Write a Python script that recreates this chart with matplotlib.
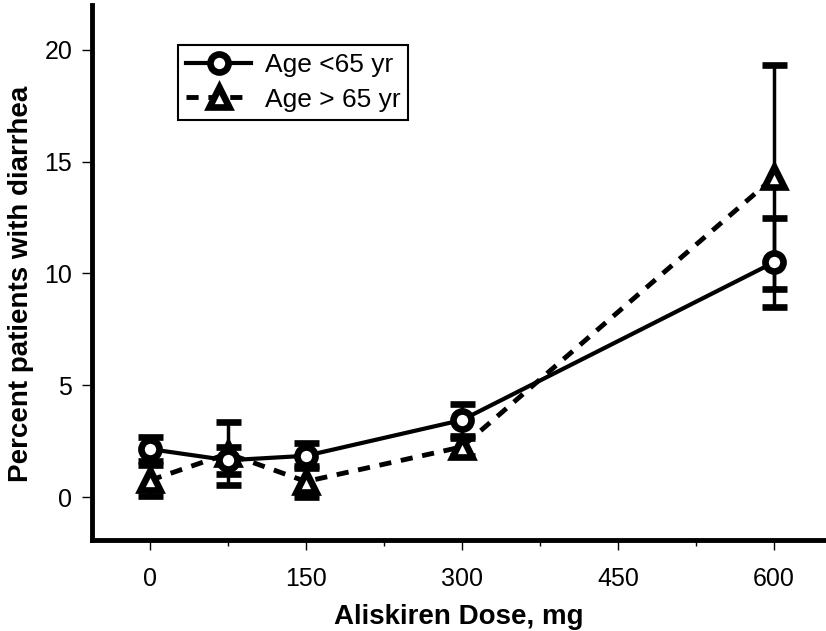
import numpy as np
import matplotlib.pyplot as plt
from matplotlib.lines import Line2D
from matplotlib.ticker import MultipleLocator

plt.rcParams['font.family'] = ['Liberation Sans', 'DejaVu Sans']

dose = [0, 75, 150, 300, 600]
young = [2.15, 1.65, 1.85, 3.45, 10.5]
young_err = [0.55, 0.6, 0.55, 0.7, 2.0]
old = [0.75, 1.95, 0.7, 2.25, 14.3]
old_err = [0.7, 1.4, 0.7, 0.4, 5.0]
labels = ['Age <65 yr', 'Age > 65 yr']

fig = plt.figure(figsize=(8.26, 6.31), dpi=100)
ax = fig.add_axes([0.111, 0.144, 0.889, 0.848])

dash = (0, (2.5, 2))
young_style = dict(color='black', lw=3, marker='o', ms=13, mfc='white', mew=4.8)
old_style = dict(color='black', lw=3.5, ls=dash, marker='^', ms=15,
                 mfc='white', mew=4.8)

ax.errorbar(dose, young, yerr=young_err, capsize=9, capthick=3,
            elinewidth=2.5, zorder=3, **young_style)
ax.errorbar(dose, old, yerr=old_err, capsize=9, capthick=3,
            elinewidth=2.5, zorder=2, **old_style)

ax.set_xlim(-56, 650)
ax.set_ylim(-1.92, 22.0)
ax.set_xticks([0, 150, 300, 450, 600])
ax.xaxis.set_minor_locator(MultipleLocator(75))
ax.set_yticks([0, 5, 10, 15, 20])
ax.tick_params(direction='out', length=7, width=1, labelsize=18)
ax.tick_params(axis='x', pad=12)
ax.tick_params(axis='y', pad=7)
ax.tick_params(which='minor', direction='out', length=4, width=1)

for s in ['top', 'right']:
    ax.spines[s].set_visible(False)
for s in ['left', 'bottom']:
    ax.spines[s].set_linewidth(3.5)

ax.set_xlabel('Aliskiren Dose, mg', fontsize=20, fontweight='bold', labelpad=10)
ax.set_ylabel('Percent patients with diarrhea', fontsize=20, fontweight='bold')
ax.yaxis.set_label_coords(-0.078, 0.478)

# legend without the error bar caps
handles = [Line2D([], [], **young_style), Line2D([], [], **old_style)]
leg = ax.legend(handles, labels, loc='upper left',
                bbox_to_anchor=(0.117, 0.925), borderaxespad=0, fontsize=19,
                frameon=True, fancybox=False, edgecolor='black', framealpha=1,
                handlelength=2.5, handletextpad=0.5, borderpad=0.3,
                labelspacing=0.4)
leg.get_frame().set_linewidth(1.5)

fig.savefig('out.png', dpi=100)
